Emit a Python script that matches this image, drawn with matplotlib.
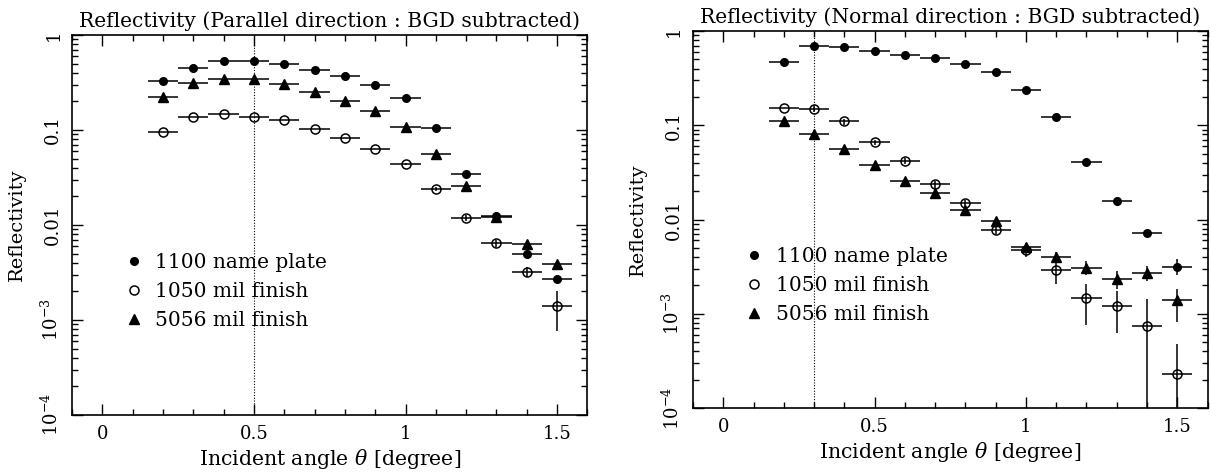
import numpy as np
import matplotlib
matplotlib.use("Agg")
import matplotlib.pyplot as plt
from matplotlib.lines import Line2D
from matplotlib.ticker import FixedLocator, LogLocator, NullFormatter, FixedFormatter

plt.rcParams['font.family'] = ['DejaVu Serif']
plt.rcParams['mathtext.fontset'] = 'dejavuserif'

# ---------------- data ----------------
angle = [0.2, 0.3, 0.4, 0.5, 0.6, 0.7, 0.8, 0.9, 1.0, 1.1, 1.2, 1.3, 1.4, 1.5]
angle_halfwidth = 0.05

series_labels = ["1100 name plate", "1050 mil finish", "5056 mil finish"]

# Parallel direction
par_1100 = [0.33, 0.454, 0.534, 0.534, 0.49, 0.43, 0.37, 0.30, 0.217, 0.105, 0.0348, 0.0124, 0.00492, 0.00269]
par_1050 = [0.096, 0.136, 0.148, 0.138, 0.128, 0.103, 0.0818, 0.0627, 0.044, 0.024, 0.0119, 0.00643, 0.00321, 0.0014]
par_5056 = [0.222, 0.311, 0.345, 0.345, 0.304, 0.25, 0.2, 0.157, 0.107, 0.056, 0.0256, 0.0122, 0.00627, 0.00387]
par_1100_err = [0, 0, 0, 0, 0, 0, 0, 0, 0, 0, 0.001, 0.0006, 0.0003, 0.0002]
par_1050_err_lo = [0, 0, 0, 0, 0, 0, 0, 0, 0.001, 0.001, 0.0008, 0.0005, 0.0004, 0.00063]
par_1050_err_hi = [0, 0, 0, 0, 0, 0, 0, 0, 0.001, 0.001, 0.0008, 0.0005, 0.0004, 0.00063]
par_5056_err = [0, 0, 0, 0, 0, 0, 0, 0, 0, 0, 0.001, 0.0006, 0.0004, 0.0003]

# Normal direction
nor_1100 = [0.471, 0.689, 0.678, 0.611, 0.563, 0.511, 0.445, 0.370, 0.237, 0.122, 0.0409, 0.0159, 0.00712, 0.00317]
nor_1050 = [0.154, 0.149, 0.1097, 0.0659, 0.0419, 0.0236, 0.0149, 0.00778, 0.00479, 0.00288, 0.00147, 0.00121, 0.000744, 0.000228]
nor_5056 = [0.111, 0.0807, 0.0565, 0.0377, 0.0256, 0.0193, 0.0126, 0.00953, 0.00507, 0.00404, 0.00309, 0.00235, 0.00272, 0.00139]
nor_1100_err = [0, 0, 0, 0, 0, 0, 0, 0, 0, 0, 0, 0.0008, 0.0006, 0.0006]
nor_1050_err_lo = [0, 0.01, 0.008, 0.004, 0.003, 0.002, 0.0012, 0.0008, 0.0008, 0.0008, 0.00071, 0.00058, 0.000744, 0.000228]
nor_1050_err_hi = [0, 0.01, 0.008, 0.004, 0.003, 0.002, 0.0012, 0.0008, 0.0008, 0.00064, 0.00061, 0.00052, 0.00068, 0.00025]
nor_5056_err_lo = [0, 0, 0, 0, 0, 0, 0, 0, 0.0004, 0.0005, 0.0005, 0.0005, 0.0005, 0.00057]
nor_5056_err_hi = [0, 0, 0, 0, 0, 0, 0, 0, 0.0004, 0.0005, 0.0005, 0.0005, 0.0005, 0.00045]

titles = ["Reflectivity (Parallel direction : BGD subtracted)",
          "Reflectivity (Normal direction : BGD subtracted)"]
x_label = r"Incident angle $\theta$ [degree]"
y_label = "Reflectivity"
x_ticks = [0, 0.5, 1, 1.5]
x_ticklabels = ["0", "0.5", "1", "1.5"]
y_ticks = [1e-4, 1e-3, 1e-2, 1e-1, 1]
y_ticklabels = [r"$10^{-4}$", r"$10^{-3}$", "0.01", "0.1", "1"]
marker_line = [0.5, 0.3]

# ---------------- figure ----------------
fig = plt.figure(figsize=(12.1, 4.72), dpi=100)
ax1 = fig.add_axes([0.0595, 0.1208, 0.4260, 0.8051])
ax2 = fig.add_axes([0.5727, 0.1356, 0.4253, 0.7987])

styles = [dict(marker='o', ms=5.5, mfc='black', mec='black'),
          dict(marker='o', ms=6.5, mfc='none', mec='black', mew=1.1),
          dict(marker='^', ms=7.5, mfc='black', mec='black')]

panels = [
    (ax1, [par_1100, par_1050, par_5056],
     [[par_1100_err, par_1100_err], [par_1050_err_lo, par_1050_err_hi], [par_5056_err, par_5056_err]]),
    (ax2, [nor_1100, nor_1050, nor_5056],
     [[nor_1100_err, nor_1100_err], [nor_1050_err_lo, nor_1050_err_hi], [nor_5056_err_lo, nor_5056_err_hi]]),
]

for i, (ax, ys, errs) in enumerate(panels):
    ax.set_yscale('log', nonpositive='clip')
    for y, e, st in zip(ys, errs, styles):
        ax.errorbar(angle, y, xerr=angle_halfwidth, yerr=[e[0], e[1]], fmt='none',
                    ecolor='black', elinewidth=1.1, capsize=0)
        ax.plot(angle, y, linestyle='none', **st)
    ax.axvline(marker_line[i], color='black', lw=0.8, ls=(0, (1, 1.5)))
    ax.set_xlim(-0.1, 1.6)
    ax.set_ylim(1e-4, 1)
    ax.set_title(titles[i], fontsize=14.6, pad=6)
    ax.set_xlabel(x_label, fontsize=14.7, labelpad=3)
    ax.set_ylabel(y_label, fontsize=14, labelpad=11)
    ax.xaxis.set_major_locator(FixedLocator(x_ticks))
    ax.xaxis.set_major_formatter(FixedFormatter(x_ticklabels))
    ax.xaxis.set_minor_locator(FixedLocator(np.arange(-0.1, 1.61, 0.1)))
    ax.yaxis.set_major_locator(FixedLocator(y_ticks))
    ax.yaxis.set_major_formatter(FixedFormatter(y_ticklabels))
    ax.yaxis.set_minor_locator(LogLocator(base=10, subs=np.arange(2, 10)))
    ax.yaxis.set_minor_formatter(NullFormatter())
    ax.tick_params(which='both', direction='in', top=True, right=True, width=1)
    ax.tick_params(which='major', length=8, labelsize=13, pad=7)
    ax.tick_params(which='minor', length=4)
    for lab in ax.get_yticklabels():
        lab.set_rotation(90)
        lab.set_va('center')
    for sp in ax.spines.values():
        sp.set_linewidth(1.2)
    handles = [Line2D([], [], linestyle='none', color='black', **st) for st in styles]
    ax.legend(handles, series_labels, loc='center left', bbox_to_anchor=(0.10, 0.324),
              frameon=False, fontsize=14.5, handlelength=1.0, handletextpad=0.55,
              labelspacing=0.5, borderpad=0, borderaxespad=0)

fig.savefig("out.png", dpi=100)
